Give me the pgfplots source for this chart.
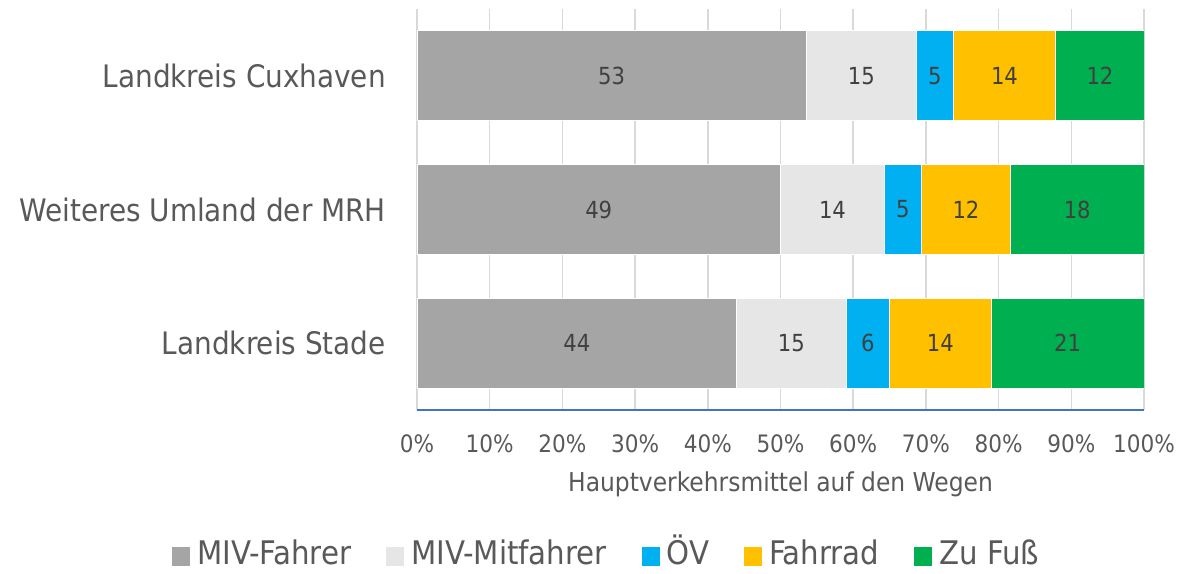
\documentclass[border=0pt]{standalone}
\usepackage{fontspec}
\setmainfont{DejaVu Sans Condensed}
\usepackage{pgfplots}
\pgfplotsset{compat=1.18}
\definecolor{cMF}{HTML}{A5A5A5}
\definecolor{cMM}{HTML}{E7E6E6}
\definecolor{cOV}{HTML}{00B0F0}
\definecolor{cFR}{HTML}{FFC000}
\definecolor{cZF}{HTML}{00B050}
\definecolor{cAx}{HTML}{4472C4}
\definecolor{cGrid}{HTML}{D9D9D9}
\definecolor{cTxt}{HTML}{595959}
\definecolor{cLbl}{HTML}{404040}
\begin{document}
\begin{tikzpicture}[x=1pt,y=1pt]
\path[use as bounding box] (0,0) rectangle (1180,573);
\begin{axis}[
  at={(417pt,163pt)}, anchor=south west,
  scale only axis, width=727pt, height=401pt,
  xbar stacked, bar width=90pt,
  xmin=0, xmax=100, ymin=0.5, ymax=3.5,
  xtick={0,10,...,100},
  xticklabels={0\%,10\%,20\%,30\%,40\%,50\%,60\%,70\%,80\%,90\%,100\%},
  ytick={1,2,3},
  yticklabels={Landkreis Stade,Weiteres Umland der MRH,Landkreis Cuxhaven},
  major tick length=0pt,
  xmajorgrids, grid style={draw=cGrid, line width=1.5pt},
  axis x line*=bottom, axis y line*=left,
  x axis line style={draw=cAx, line width=1.2pt, -},
  y axis line style={draw=none},
  xticklabel style={font=\fontsize{24}{28}\selectfont, text=cTxt, inner sep=0pt, yshift=-24pt},
  yticklabel style={font=\fontsize{31}{37}\selectfont, text=cTxt, inner sep=0pt, xshift=-31pt},
  xlabel={Hauptverkehrsmittel auf den Wegen},
  every axis x label/.style={at={(axis description cs:0.5,0)}, anchor=center, yshift=-74pt,
    font=\fontsize{26}{31}\selectfont, text=cTxt},
  point meta=explicit symbolic,
  nodes near coords,
  every node near coord/.append style={font=\fontsize{23.5}{27}\selectfont, text=cLbl},
  legend style={at={(axis description cs:-0.337,-0.3653)}, anchor=west, draw=none,
    inner sep=0pt, nodes={inner sep=0pt, text height=24pt, text depth=7pt},
    font=\fontsize{32.5}{38}\selectfont, text=cTxt,
    /tikz/every odd column/.append style={column sep=7pt},
    /tikz/every even column/.append style={column sep=35pt}},
  legend columns=-1,
  legend image code/.code={\path[#1,draw=none] (0pt,-10pt) rectangle (18pt,9pt);},
]
\addplot[fill=cMF, draw=white, line width=0.8pt] coordinates {(44,1) [44] (50.00,2) [49] (53.54,3) [53]};
\addplot[fill=cMM, draw=white, line width=0.8pt] coordinates {(15,1) [15] (14.29,2) [14] (15.15,3) [15]};
\addplot[fill=cOV, draw=white, line width=0.8pt] coordinates {(6,1) [6] (5.10,2) [5] (5.05,3) [5]};
\addplot[fill=cFR, draw=white, line width=0.8pt] coordinates {(14,1) [14] (12.24,2) [12] (14.14,3) [14]};
\addplot[fill=cZF, draw=white, line width=0.8pt] coordinates {(21,1) [21] (18.37,2) [18] (12.12,3) [12]};
\legend{MIV-Fahrer,MIV-Mitfahrer,ÖV,Fahrrad,Zu Fuß}
\end{axis}
\end{tikzpicture}
\end{document}
